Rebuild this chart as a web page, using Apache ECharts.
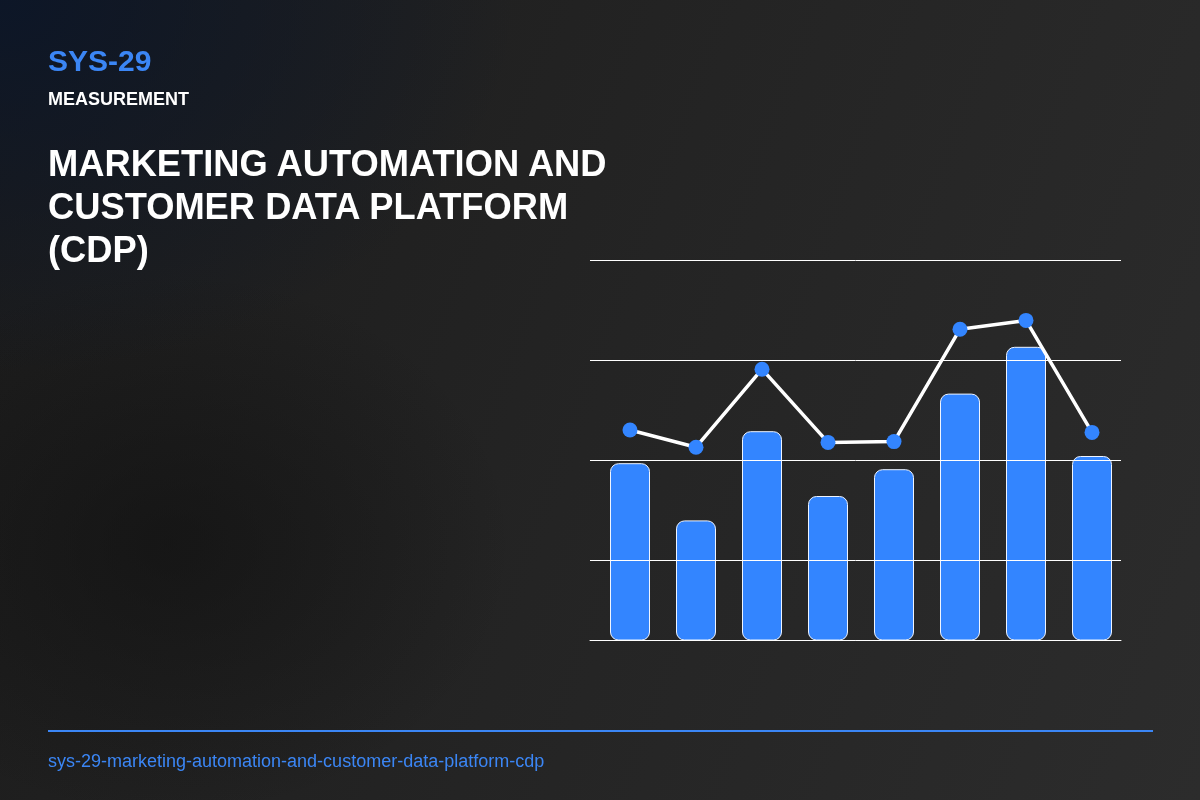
<!DOCTYPE html>
<html lang="en">

<head>
    <meta charset="UTF-8">
    <title>SYS-29 Measurement</title>
    <style>
        html,
        body {
            margin: 0;
            padding: 0;
            width: 1200px;
            height: 800px;
            overflow: hidden;
        }

        body {
            position: relative;
            font-family: "Liberation Sans", Arial, sans-serif;
            background:
                radial-gradient(ellipse 720px 520px at 0% 0%, rgba(12, 22, 40, 0.95), rgba(12, 22, 40, 0) 72%),
                radial-gradient(ellipse 480px 380px at 14% 68%, rgba(14, 14, 14, 0.55), rgba(14, 14, 14, 0) 72%),
                linear-gradient(110deg, #1b1b1b 0%, #242424 50%, #2c2c2c 100%);
        }

        #chartmain {
            position: absolute;
            left: 0;
            top: 0;
            width: 1200px;
            height: 800px;
        }

        .code {
            position: absolute;
            left: 48px;
            top: 46px;
            font-size: 30px;
            line-height: 30px;
            font-weight: 700;
            color: #3b86f5;
        }

        .kind {
            position: absolute;
            left: 48px;
            top: 90px;
            font-size: 18px;
            line-height: 18px;
            font-weight: 700;
            color: #ffffff;
        }

        .title {
            position: absolute;
            left: 48px;
            top: 142px;
            width: 620px;
            font-size: 36.3px;
            line-height: 43px;
            font-weight: 700;
            color: #ffffff;
        }

        .rule {
            position: absolute;
            left: 48px;
            top: 730px;
            width: 1105px;
            height: 2px;
            background: #3b86f5;
        }

        .slug {
            position: absolute;
            left: 48px;
            top: 751px;
            font-size: 18px;
            line-height: 20px;
            color: #3b86f5;
        }
    </style>
</head>

<body>
    <div id="chartmain"></div>
    <div class="code">SYS-29</div>
    <div class="kind">MEASUREMENT</div>
    <div class="title">MARKETING AUTOMATION AND<br>CUSTOMER DATA PLATFORM<br>(CDP)</div>
    <div class="rule"></div>
    <div class="slug">sys-29-marketing-automation-and-customer-data-platform-cdp</div>

    <script src="https://cdn.jsdelivr.net/npm/echarts@6/dist/echarts.min.js"></script>
    <script type="text/javascript">
        // data
        var categories = ['P1', 'P2', 'P3', 'P4', 'P5', 'P6', 'P7', 'P8'];
        var barValues = [49.2, 34.9, 57.2, 41, 47.7, 66.6, 78.3, 51];
        var lineValues = [57.5, 53.2, 72.7, 54.4, 54.6, 82.7, 84.9, 56.9];
        var yMin = 5,
            yMax = 100,
            yStep = 25;

        var mychart = echarts.init(document.getElementById('chartmain'), null, {
            renderer: 'canvas'
        });

        var option = {
            animation: false,
            backgroundColor: 'transparent',
            grid: [{
                    // grid 0 only carries the horizontal rules
                    left: 590,
                    top: 260,
                    width: 531,
                    height: 380
                },
                {
                    left: 597,
                    top: 260,
                    width: 528,
                    height: 380
                }
            ],
            xAxis: [{
                    gridIndex: 0,
                    type: 'category',
                    data: categories,
                    z: 5,
                    axisLine: {
                        show: true,
                        onZero: false,
                        lineStyle: {
                            color: '#ffffff',
                            width: 1
                        }
                    },
                    axisTick: {
                        show: false
                    },
                    axisLabel: {
                        show: false
                    },
                    splitLine: {
                        show: false
                    }
                },
                {
                    gridIndex: 1,
                    type: 'category',
                    data: categories,
                    boundaryGap: true,
                    show: false
                }
            ],
            yAxis: [{
                    gridIndex: 0,
                    type: 'value',
                    min: yMin,
                    max: yMax,
                    minInterval: yStep,
                    maxInterval: yStep,
                    z: 5,
                    axisLine: {
                        show: false
                    },
                    axisTick: {
                        show: false
                    },
                    axisLabel: {
                        show: false
                    },
                    splitLine: {
                        show: true,
                        lineStyle: {
                            color: '#ffffff',
                            width: 1
                        }
                    }
                },
                {
                    gridIndex: 1,
                    type: 'value',
                    min: yMin,
                    max: yMax,
                    show: false,
                    splitLine: {
                        show: false
                    }
                }
            ],
            series: [{
                    name: 'bars',
                    type: 'bar',
                    xAxisIndex: 1,
                    yAxisIndex: 1,
                    barWidth: 40,
                    z: 2,
                    itemStyle: {
                        color: '#3385ff',
                        borderColor: '#eef4ff',
                        borderWidth: 1,
                        borderRadius: 8
                    },
                    data: barValues
                },
                {
                    name: 'line',
                    type: 'line',
                    xAxisIndex: 1,
                    yAxisIndex: 1,
                    z: 10,
                    symbol: 'circle',
                    symbolSize: 15,
                    lineStyle: {
                        color: '#ffffff',
                        width: 3.5
                    },
                    itemStyle: {
                        color: '#3385ff'
                    },
                    data: lineValues
                }
            ]
        };
        mychart.setOption(option, true);
    </script>
</body>

</html>
